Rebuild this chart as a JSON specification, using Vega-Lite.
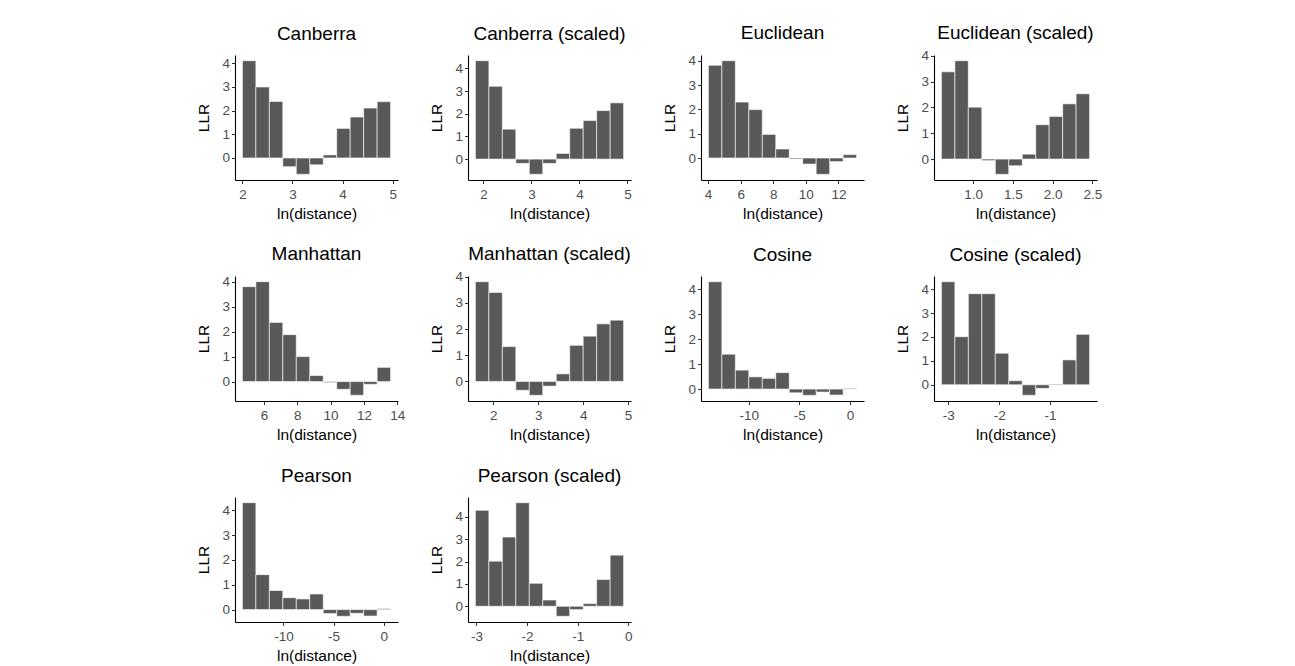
{
  "$schema": "https://vega.github.io/schema/vega-lite/v6.json",
  "background": "white",
  "padding": {"left": 196, "top": 23, "right": 5, "bottom": 5},
  "data": {"values": [
    {"m": "Canberra", "x0": 2.000, "x1": 2.269, "llr": 4.11},
    {"m": "Canberra", "x0": 2.269, "x1": 2.538, "llr": 3.00},
    {"m": "Canberra", "x0": 2.538, "x1": 2.807, "llr": 2.39},
    {"m": "Canberra", "x0": 2.807, "x1": 3.076, "llr": -0.37},
    {"m": "Canberra", "x0": 3.076, "x1": 3.345, "llr": -0.69},
    {"m": "Canberra", "x0": 3.345, "x1": 3.614, "llr": -0.29},
    {"m": "Canberra", "x0": 3.614, "x1": 3.883, "llr": 0.13},
    {"m": "Canberra", "x0": 3.883, "x1": 4.152, "llr": 1.25},
    {"m": "Canberra", "x0": 4.152, "x1": 4.421, "llr": 1.73},
    {"m": "Canberra", "x0": 4.421, "x1": 4.690, "llr": 2.11},
    {"m": "Canberra", "x0": 4.690, "x1": 4.959, "llr": 2.38},
    {"m": "Canberra (scaled)", "x0": 1.833, "x1": 2.114, "llr": 4.34},
    {"m": "Canberra (scaled)", "x0": 2.114, "x1": 2.394, "llr": 3.21},
    {"m": "Canberra (scaled)", "x0": 2.394, "x1": 2.675, "llr": 1.32},
    {"m": "Canberra (scaled)", "x0": 2.675, "x1": 2.955, "llr": -0.19},
    {"m": "Canberra (scaled)", "x0": 2.955, "x1": 3.236, "llr": -0.67},
    {"m": "Canberra (scaled)", "x0": 3.236, "x1": 3.516, "llr": -0.19},
    {"m": "Canberra (scaled)", "x0": 3.516, "x1": 3.797, "llr": 0.25},
    {"m": "Canberra (scaled)", "x0": 3.797, "x1": 4.078, "llr": 1.36},
    {"m": "Canberra (scaled)", "x0": 4.078, "x1": 4.358, "llr": 1.70},
    {"m": "Canberra (scaled)", "x0": 4.358, "x1": 4.639, "llr": 2.14},
    {"m": "Canberra (scaled)", "x0": 4.639, "x1": 4.919, "llr": 2.48},
    {"m": "Euclidean", "x0": 4.020, "x1": 4.847, "llr": 3.81},
    {"m": "Euclidean", "x0": 4.847, "x1": 5.674, "llr": 4.00},
    {"m": "Euclidean", "x0": 5.674, "x1": 6.501, "llr": 2.30},
    {"m": "Euclidean", "x0": 6.501, "x1": 7.328, "llr": 1.99},
    {"m": "Euclidean", "x0": 7.328, "x1": 8.155, "llr": 0.97},
    {"m": "Euclidean", "x0": 8.155, "x1": 8.982, "llr": 0.37},
    {"m": "Euclidean", "x0": 8.982, "x1": 9.809, "llr": -0.04},
    {"m": "Euclidean", "x0": 9.809, "x1": 10.636, "llr": -0.25},
    {"m": "Euclidean", "x0": 10.636, "x1": 11.463, "llr": -0.67},
    {"m": "Euclidean", "x0": 11.463, "x1": 12.290, "llr": -0.15},
    {"m": "Euclidean", "x0": 12.290, "x1": 13.117, "llr": 0.14},
    {"m": "Euclidean (scaled)", "x0": 0.600, "x1": 0.770, "llr": 3.38},
    {"m": "Euclidean (scaled)", "x0": 0.770, "x1": 0.939, "llr": 3.81},
    {"m": "Euclidean (scaled)", "x0": 0.939, "x1": 1.109, "llr": 2.01},
    {"m": "Euclidean (scaled)", "x0": 1.109, "x1": 1.279, "llr": -0.06},
    {"m": "Euclidean (scaled)", "x0": 1.279, "x1": 1.448, "llr": -0.59},
    {"m": "Euclidean (scaled)", "x0": 1.448, "x1": 1.618, "llr": -0.26},
    {"m": "Euclidean (scaled)", "x0": 1.618, "x1": 1.788, "llr": 0.19},
    {"m": "Euclidean (scaled)", "x0": 1.788, "x1": 1.957, "llr": 1.33},
    {"m": "Euclidean (scaled)", "x0": 1.957, "x1": 2.127, "llr": 1.65},
    {"m": "Euclidean (scaled)", "x0": 2.127, "x1": 2.296, "llr": 2.14},
    {"m": "Euclidean (scaled)", "x0": 2.296, "x1": 2.466, "llr": 2.53},
    {"m": "Manhattan", "x0": 4.710, "x1": 5.518, "llr": 3.80},
    {"m": "Manhattan", "x0": 5.518, "x1": 6.326, "llr": 4.00},
    {"m": "Manhattan", "x0": 6.326, "x1": 7.134, "llr": 2.37},
    {"m": "Manhattan", "x0": 7.134, "x1": 7.942, "llr": 1.88},
    {"m": "Manhattan", "x0": 7.942, "x1": 8.750, "llr": 1.00},
    {"m": "Manhattan", "x0": 8.750, "x1": 9.558, "llr": 0.24},
    {"m": "Manhattan", "x0": 9.558, "x1": 10.366, "llr": -0.04},
    {"m": "Manhattan", "x0": 10.366, "x1": 11.174, "llr": -0.31},
    {"m": "Manhattan", "x0": 11.174, "x1": 11.982, "llr": -0.55},
    {"m": "Manhattan", "x0": 11.982, "x1": 12.790, "llr": -0.11},
    {"m": "Manhattan", "x0": 12.790, "x1": 13.598, "llr": 0.57},
    {"m": "Manhattan (scaled)", "x0": 1.600, "x1": 1.900, "llr": 3.81},
    {"m": "Manhattan (scaled)", "x0": 1.900, "x1": 2.200, "llr": 3.40},
    {"m": "Manhattan (scaled)", "x0": 2.200, "x1": 2.500, "llr": 1.33},
    {"m": "Manhattan (scaled)", "x0": 2.500, "x1": 2.800, "llr": -0.34},
    {"m": "Manhattan (scaled)", "x0": 2.800, "x1": 3.100, "llr": -0.53},
    {"m": "Manhattan (scaled)", "x0": 3.100, "x1": 3.400, "llr": -0.18},
    {"m": "Manhattan (scaled)", "x0": 3.400, "x1": 3.700, "llr": 0.29},
    {"m": "Manhattan (scaled)", "x0": 3.700, "x1": 4.000, "llr": 1.38},
    {"m": "Manhattan (scaled)", "x0": 4.000, "x1": 4.300, "llr": 1.73},
    {"m": "Manhattan (scaled)", "x0": 4.300, "x1": 4.600, "llr": 2.20},
    {"m": "Manhattan (scaled)", "x0": 4.600, "x1": 4.900, "llr": 2.34},
    {"m": "Cosine", "x0": -13.990, "x1": -12.658, "llr": 4.31},
    {"m": "Cosine", "x0": -12.658, "x1": -11.326, "llr": 1.40},
    {"m": "Cosine", "x0": -11.326, "x1": -9.994, "llr": 0.76},
    {"m": "Cosine", "x0": -9.994, "x1": -8.662, "llr": 0.49},
    {"m": "Cosine", "x0": -8.662, "x1": -7.330, "llr": 0.43},
    {"m": "Cosine", "x0": -7.330, "x1": -5.998, "llr": 0.66},
    {"m": "Cosine", "x0": -5.998, "x1": -4.666, "llr": -0.15},
    {"m": "Cosine", "x0": -4.666, "x1": -3.334, "llr": -0.25},
    {"m": "Cosine", "x0": -3.334, "x1": -2.002, "llr": -0.12},
    {"m": "Cosine", "x0": -2.002, "x1": -0.670, "llr": -0.24},
    {"m": "Cosine", "x0": -0.670, "x1": 0.662, "llr": 0.03},
    {"m": "Cosine (scaled)", "x0": -3.136, "x1": -2.871, "llr": 4.31},
    {"m": "Cosine (scaled)", "x0": -2.871, "x1": -2.606, "llr": 2.01},
    {"m": "Cosine (scaled)", "x0": -2.606, "x1": -2.341, "llr": 3.81},
    {"m": "Cosine (scaled)", "x0": -2.341, "x1": -2.076, "llr": 3.81},
    {"m": "Cosine (scaled)", "x0": -2.076, "x1": -1.811, "llr": 1.32},
    {"m": "Cosine (scaled)", "x0": -1.811, "x1": -1.546, "llr": 0.17},
    {"m": "Cosine (scaled)", "x0": -1.546, "x1": -1.281, "llr": -0.44},
    {"m": "Cosine (scaled)", "x0": -1.281, "x1": -1.016, "llr": -0.15},
    {"m": "Cosine (scaled)", "x0": -1.016, "x1": -0.751, "llr": 0.03},
    {"m": "Cosine (scaled)", "x0": -0.751, "x1": -0.486, "llr": 1.04},
    {"m": "Cosine (scaled)", "x0": -0.486, "x1": -0.221, "llr": 2.11},
    {"m": "Pearson", "x0": -14.100, "x1": -12.755, "llr": 4.31},
    {"m": "Pearson", "x0": -12.755, "x1": -11.410, "llr": 1.41},
    {"m": "Pearson", "x0": -11.410, "x1": -10.065, "llr": 0.77},
    {"m": "Pearson", "x0": -10.065, "x1": -8.720, "llr": 0.48},
    {"m": "Pearson", "x0": -8.720, "x1": -7.375, "llr": 0.43},
    {"m": "Pearson", "x0": -7.375, "x1": -6.030, "llr": 0.63},
    {"m": "Pearson", "x0": -6.030, "x1": -4.685, "llr": -0.16},
    {"m": "Pearson", "x0": -4.685, "x1": -3.340, "llr": -0.27},
    {"m": "Pearson", "x0": -3.340, "x1": -1.995, "llr": -0.15},
    {"m": "Pearson", "x0": -1.995, "x1": -0.650, "llr": -0.26},
    {"m": "Pearson", "x0": -0.650, "x1": 0.695, "llr": 0.04},
    {"m": "Pearson (scaled)", "x0": -3.020, "x1": -2.754, "llr": 4.30},
    {"m": "Pearson (scaled)", "x0": -2.754, "x1": -2.488, "llr": 2.02},
    {"m": "Pearson (scaled)", "x0": -2.488, "x1": -2.222, "llr": 3.10},
    {"m": "Pearson (scaled)", "x0": -2.222, "x1": -1.956, "llr": 4.64},
    {"m": "Pearson (scaled)", "x0": -1.956, "x1": -1.690, "llr": 1.03},
    {"m": "Pearson (scaled)", "x0": -1.690, "x1": -1.424, "llr": 0.28},
    {"m": "Pearson (scaled)", "x0": -1.424, "x1": -1.158, "llr": -0.45},
    {"m": "Pearson (scaled)", "x0": -1.158, "x1": -0.892, "llr": -0.15},
    {"m": "Pearson (scaled)", "x0": -0.892, "x1": -0.626, "llr": 0.12},
    {"m": "Pearson (scaled)", "x0": -0.626, "x1": -0.360, "llr": 1.20},
    {"m": "Pearson (scaled)", "x0": -0.360, "x1": -0.094, "llr": 2.29}
  ]},
  "columns": 4,
  "bounds": "flush",
  "spacing": {"column": 70, "row": 96},
  "concat": [
    {"title": {"text": "Canberra", "offset": 11}, "transform": [{"filter": "datum.m === 'Canberra'"}], "width": 163, "height": 125,
     "mark": {"type": "bar", "color": "#595959", "stroke": "#ffffff", "strokeWidth": 0.6},
     "encoding": {"x": {"field": "x0", "type": "quantitative", "scale": {"zero": false, "nice": false, "padding": 7.4}, "axis": {"title": "ln(distance)", "tickCount": 4}}, "x2": {"field": "x1"}, "y": {"field": "llr", "type": "quantitative", "stack": null, "scale": {"nice": false, "padding": 5.7}, "axis": {"title": "LLR", "tickCount": 5}}, "y2": {"datum": 0}}},
    {"title": {"text": "Canberra (scaled)", "offset": 11}, "transform": [{"filter": "datum.m === 'Canberra (scaled)'"}], "width": 163, "height": 125,
     "mark": {"type": "bar", "color": "#595959", "stroke": "#ffffff", "strokeWidth": 0.6},
     "encoding": {"x": {"field": "x0", "type": "quantitative", "scale": {"zero": false, "nice": false, "padding": 7.4}, "axis": {"title": "ln(distance)", "tickCount": 4}}, "x2": {"field": "x1"}, "y": {"field": "llr", "type": "quantitative", "stack": null, "scale": {"nice": false, "padding": 5.7}, "axis": {"title": "LLR", "tickCount": 5}}, "y2": {"datum": 0}}},
    {"title": {"text": "Euclidean", "offset": 10.7}, "transform": [{"filter": "datum.m === 'Euclidean'"}], "width": 163, "height": 125,
     "mark": {"type": "bar", "color": "#595959", "stroke": "#ffffff", "strokeWidth": 0.6},
     "encoding": {"x": {"field": "x0", "type": "quantitative", "scale": {"zero": false, "nice": false, "padding": 7.4}, "axis": {"title": "ln(distance)", "tickCount": 4}}, "x2": {"field": "x1"}, "y": {"field": "llr", "type": "quantitative", "stack": null, "scale": {"nice": false, "padding": 5.7}, "axis": {"title": "LLR", "tickCount": 5}}, "y2": {"datum": 0}}},
    {"title": {"text": "Euclidean (scaled)", "offset": 5.8}, "transform": [{"filter": "datum.m === 'Euclidean (scaled)'"}], "width": 163, "height": 125,
     "mark": {"type": "bar", "color": "#595959", "stroke": "#ffffff", "strokeWidth": 0.6},
     "encoding": {"x": {"field": "x0", "type": "quantitative", "scale": {"zero": false, "nice": false, "padding": 7.4}, "axis": {"title": "ln(distance)", "tickCount": 4}}, "x2": {"field": "x1"}, "y": {"field": "llr", "type": "quantitative", "stack": null, "scale": {"nice": false, "padding": 5.7}, "axis": {"title": "LLR", "tickCount": 5}}, "y2": {"datum": 0}}},
    {"title": {"text": "Manhattan", "offset": 10.7}, "transform": [{"filter": "datum.m === 'Manhattan'"}], "width": 163, "height": 125,
     "mark": {"type": "bar", "color": "#595959", "stroke": "#ffffff", "strokeWidth": 0.6},
     "encoding": {"x": {"field": "x0", "type": "quantitative", "scale": {"zero": false, "nice": false, "padding": 7.4}, "axis": {"title": "ln(distance)", "tickCount": 4}}, "x2": {"field": "x1"}, "y": {"field": "llr", "type": "quantitative", "stack": null, "scale": {"nice": false, "padding": 5.7}, "axis": {"title": "LLR", "tickCount": 5}}, "y2": {"datum": 0}}},
    {"title": {"text": "Manhattan (scaled)", "offset": 5.8}, "transform": [{"filter": "datum.m === 'Manhattan (scaled)'"}], "width": 163, "height": 125,
     "mark": {"type": "bar", "color": "#595959", "stroke": "#ffffff", "strokeWidth": 0.6},
     "encoding": {"x": {"field": "x0", "type": "quantitative", "scale": {"zero": false, "nice": false, "padding": 7.4}, "axis": {"title": "ln(distance)", "tickCount": 4}}, "x2": {"field": "x1"}, "y": {"field": "llr", "type": "quantitative", "stack": null, "scale": {"nice": false, "padding": 5.7}, "axis": {"title": "LLR", "tickCount": 5}}, "y2": {"datum": 0}}},
    {"title": {"text": "Cosine", "offset": 11}, "transform": [{"filter": "datum.m === 'Cosine'"}], "width": 163, "height": 125,
     "mark": {"type": "bar", "color": "#595959", "stroke": "#ffffff", "strokeWidth": 0.6},
     "encoding": {"x": {"field": "x0", "type": "quantitative", "scale": {"zero": false, "nice": false, "padding": 7.4}, "axis": {"title": "ln(distance)", "tickCount": 4}}, "x2": {"field": "x1"}, "y": {"field": "llr", "type": "quantitative", "stack": null, "scale": {"nice": false, "padding": 5.7}, "axis": {"title": "LLR", "tickCount": 5}}, "y2": {"datum": 0}}},
    {"title": {"text": "Cosine (scaled)", "offset": 11}, "transform": [{"filter": "datum.m === 'Cosine (scaled)'"}], "width": 163, "height": 125,
     "mark": {"type": "bar", "color": "#595959", "stroke": "#ffffff", "strokeWidth": 0.6},
     "encoding": {"x": {"field": "x0", "type": "quantitative", "scale": {"zero": false, "nice": false, "padding": 7.4}, "axis": {"title": "ln(distance)", "tickCount": 4}}, "x2": {"field": "x1"}, "y": {"field": "llr", "type": "quantitative", "stack": null, "scale": {"nice": false, "padding": 5.7}, "axis": {"title": "LLR", "tickCount": 5}}, "y2": {"datum": 0}}},
    {"title": {"text": "Pearson", "offset": 11}, "transform": [{"filter": "datum.m === 'Pearson'"}], "width": 163, "height": 125,
     "mark": {"type": "bar", "color": "#595959", "stroke": "#ffffff", "strokeWidth": 0.6},
     "encoding": {"x": {"field": "x0", "type": "quantitative", "scale": {"zero": false, "nice": false, "padding": 7.4}, "axis": {"title": "ln(distance)", "tickCount": 4}}, "x2": {"field": "x1"}, "y": {"field": "llr", "type": "quantitative", "stack": null, "scale": {"nice": false, "padding": 5.7}, "axis": {"title": "LLR", "tickCount": 5}}, "y2": {"datum": 0}}},
    {"title": {"text": "Pearson (scaled)", "offset": 11}, "transform": [{"filter": "datum.m === 'Pearson (scaled)'"}], "width": 163, "height": 125,
     "mark": {"type": "bar", "color": "#595959", "stroke": "#ffffff", "strokeWidth": 0.6},
     "encoding": {"x": {"field": "x0", "type": "quantitative", "scale": {"zero": false, "nice": false, "padding": 7.4}, "axis": {"title": "ln(distance)", "tickCount": 4}}, "x2": {"field": "x1"}, "y": {"field": "llr", "type": "quantitative", "stack": null, "scale": {"nice": false, "padding": 5.7}, "axis": {"title": "LLR", "tickCount": 5}}, "y2": {"datum": 0}}}
  ],
  "config": {
    "locale": {"number": {"decimal": ".", "thousands": ",", "grouping": [3], "currency": ["$", ""], "minus": "-"}},
    "view": {"stroke": null},
    "title": {"fontSize": 19, "font": "Liberation Sans", "fontWeight": "normal", "color": "#000000", "anchor": "middle", "frame": "group"},
    "axis": {
      "grid": false,
      "domainColor": "#000000",
      "domainWidth": 1.1,
      "tickColor": "#333333",
      "tickSize": 3.5,
      "labelColor": "#4d4d4d",
      "labelFont": "Liberation Sans",
      "labelFontSize": 13.5,
      "labelPadding": 2,
      "labelFlush": false,
      "labelOverlap": false,
      "titleFont": "Liberation Sans",
      "titleFontSize": 15.5,
      "titleFontWeight": "normal",
      "titleColor": "#000000",
      "titlePadding": 4
    },
    "axisX": {"labelPadding": 4, "titlePadding": 5},
    "axisY": {"titlePadding": 10}
  }
}
